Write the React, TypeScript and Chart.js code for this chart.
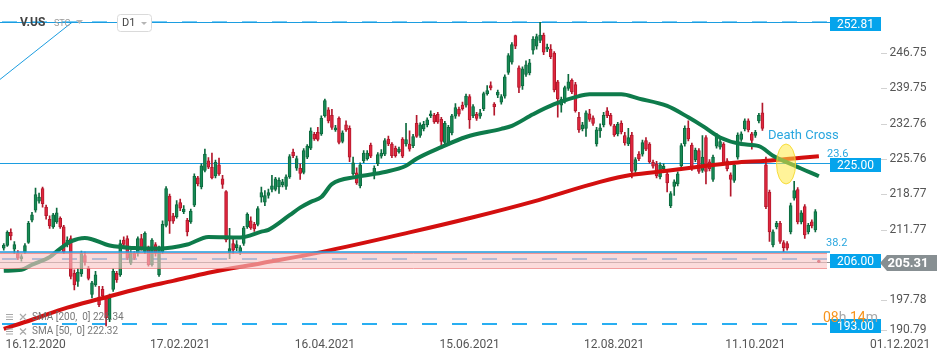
import React, { useEffect, useRef } from 'react';
import { Chart, registerables } from 'chart.js';

Chart.register(...registerables);
Chart.defaults.font.family = 'Roboto';

// ---------- candle data (daily, V.US) ----------
const opens: number[] = [
  208.1, 208.6, 211.2, 207.9, 207.1, 206.0, 207.3, 209.2, 213.6, 215.6,
  217.4, 219.9, 216.2, 213.8, 212.3, 213.3, 214.0, 212.3, 208.9, 210.0,
  203.1, 201.5, 203.0, 206.6, 204.1, 198.9, 200.8, 198.4, 199.9, 198.2,
  194.0, 199.9, 203.1, 202.8, 209.7, 210.0, 205.1, 207.1, 207.1, 210.0,
  207.4, 208.1, 204.8, 208.8, 202.8, 207.4, 212.6, 218.4, 214.5, 214.3,
  217.1, 215.3, 213.6, 213.3, 216.6, 222.0, 220.2, 223.5, 225.4, 224.1,
  222.4, 224.6, 221.8, 219.3, 207.2, 209.0, 208.2, 207.4, 209.0, 212.3,
  213.5, 212.8, 212.8, 218.2, 217.2, 218.5, 219.7, 219.7, 220.2, 220.6,
  220.3, 222.2, 227.1, 223.9, 223.9, 223.1, 226.1, 227.9, 230.6, 231.0,
  230.7, 234.3, 235.5, 234.4, 231.5, 233.8, 229.2, 232.5, 231.8, 222.8,
  223.0, 220.4, 225.4, 225.8, 228.5, 222.8, 224.8, 226.3, 226.7, 229.7,
  228.7, 227.9, 227.2, 229.7, 228.7, 228.7, 228.4, 232.8, 230.4, 231.7,
  232.5, 234.3, 234.4, 234.6, 233.6, 229.0, 228.9, 230.9, 234.2, 235.6,
  236.4, 236.4, 238.1, 234.3, 234.6, 234.2, 235.7, 238.7, 240.3, 236.6,
  238.4, 237.0, 238.2, 242.9, 244.9, 250.2, 243.8, 240.2, 242.5, 242.8,
  247.3, 248.1, 249.2, 250.3, 247.5, 247.5, 246.7, 241.0, 236.4, 237.2,
  239.7, 241.3, 240.5, 234.0, 231.7, 231.8, 234.7, 233.9, 228.7, 231.3,
  232.5, 235.3, 234.4, 232.3, 230.7, 232.8, 230.4, 228.7, 230.5, 223.5,
  226.7, 226.7, 229.4, 228.7, 225.1, 224.8, 222.2, 223.8, 222.8, 216.5,
  220.3, 220.8, 224.4, 228.7, 231.8, 228.5, 225.6, 227.4, 223.5, 230.0,
  225.2, 221.7, 228.3, 228.1, 228.7, 225.4, 222.6, 221.5, 226.1, 229.6,
  231.7, 233.3, 230.7, 230.4, 233.3, 234.9, 224.6, 219.2, 208.7, 212.3,
  213.0, 209.2, 209.0, 211.3, 218.0, 219.7, 213.3, 216.3, 211.3, 213.3,
  211.7, 205.6,
];
const highs: number[] = [
  209.0, 211.5, 211.9, 209.4, 207.6, 206.8, 209.0, 213.4, 215.2, 220.0,
  219.0, 220.2, 216.6, 214.5, 215.0, 216.0, 214.3, 212.6, 210.3, 210.5,
  203.8, 204.0, 207.5, 207.3, 204.5, 201.5, 203.5, 200.5, 200.5, 198.5,
  199.0, 204.0, 203.5, 209.7, 210.3, 210.5, 207.6, 207.4, 210.3, 210.8,
  211.3, 208.5, 210.0, 209.2, 208.5, 213.5, 220.3, 218.8, 215.0, 217.5,
  217.8, 216.5, 214.0, 215.8, 222.8, 222.3, 224.8, 227.7, 226.0, 226.9,
  225.5, 225.9, 222.5, 219.5, 212.0, 210.0, 209.6, 208.6, 212.4, 215.1,
  214.3, 213.2, 216.3, 220.2, 219.5, 219.8, 222.5, 222.1, 222.0, 221.7,
  222.6, 226.6, 227.7, 226.3, 224.8, 227.8, 228.6, 231.9, 231.0, 232.0,
  234.3, 237.6, 235.9, 235.6, 232.4, 234.1, 231.3, 233.3, 232.3, 226.1,
  224.0, 225.0, 227.4, 227.4, 228.9, 224.4, 227.0, 227.6, 229.8, 230.3,
  229.0, 228.3, 228.1, 230.0, 232.8, 231.3, 230.6, 234.4, 232.9, 233.2,
  233.9, 235.3, 234.8, 235.0, 234.0, 233.2, 232.4, 234.6, 236.7, 236.0,
  237.0, 238.6, 238.5, 236.5, 235.0, 235.6, 239.0, 240.3, 241.0, 236.9,
  239.4, 238.5, 242.4, 246.6, 248.8, 250.3, 244.2, 244.0, 245.2, 245.5,
  250.0, 250.5, 252.8, 250.7, 248.5, 248.4, 247.0, 241.3, 238.0, 240.2,
  242.5, 241.6, 240.9, 235.0, 233.0, 235.3, 235.6, 234.3, 232.0, 232.7,
  235.0, 235.9, 234.8, 232.6, 233.0, 233.3, 231.0, 231.8, 231.0, 226.0,
  227.2, 229.5, 230.0, 229.0, 225.5, 225.3, 225.0, 224.8, 223.2, 219.3,
  221.6, 223.2, 228.8, 232.3, 233.3, 228.9, 227.9, 227.8, 230.4, 230.4,
  225.6, 226.5, 230.8, 229.7, 229.0, 225.8, 223.0, 225.0, 230.9, 231.1,
  233.7, 233.7, 231.0, 231.4, 234.8, 236.8, 226.1, 219.6, 211.7, 213.4,
  213.4, 209.6, 209.4, 217.0, 221.3, 220.1, 215.5, 216.7, 213.0, 213.7,
  215.7, 205.7,
];
const lows: number[] = [
  207.7, 208.4, 209.7, 207.0, 205.8, 205.5, 207.0, 209.0, 213.3, 215.2,
  217.0, 216.2, 213.8, 212.0, 212.0, 213.0, 212.0, 207.0, 208.3, 202.0,
  199.8, 200.5, 202.5, 204.7, 201.8, 198.2, 200.5, 196.5, 198.0, 192.7,
  193.5, 199.5, 201.3, 202.5, 208.5, 205.8, 204.8, 205.8, 206.5, 207.7,
  207.0, 204.5, 204.5, 206.5, 202.5, 207.0, 212.3, 211.0, 213.0, 214.0,
  215.5, 214.9, 210.5, 213.0, 216.3, 220.4, 219.8, 223.2, 223.8, 221.8,
  222.0, 222.5, 219.9, 209.3, 206.0, 207.0, 207.6, 206.8, 208.6, 212.0,
  211.8, 211.4, 212.5, 217.2, 216.5, 218.0, 219.2, 219.4, 218.9, 220.2,
  219.7, 221.9, 226.0, 223.5, 221.7, 222.8, 225.8, 227.6, 229.4, 229.3,
  230.4, 234.0, 232.9, 231.6, 231.2, 228.7, 228.9, 231.2, 225.2, 222.5,
  220.7, 220.0, 225.0, 225.5, 226.0, 221.8, 224.4, 225.9, 226.4, 228.4,
  226.0, 226.1, 226.9, 226.0, 228.3, 227.3, 228.0, 230.0, 230.0, 231.3,
  232.1, 233.9, 232.8, 232.8, 228.4, 228.6, 228.5, 230.5, 233.8, 234.2,
  235.4, 236.0, 231.8, 233.9, 233.4, 233.8, 235.3, 238.4, 239.4, 234.4,
  237.9, 236.6, 237.8, 242.5, 244.5, 247.6, 238.9, 239.5, 242.1, 242.4,
  246.5, 247.5, 248.8, 246.4, 247.0, 245.6, 239.0, 234.0, 235.0, 236.8,
  239.3, 238.7, 235.0, 231.0, 231.3, 230.2, 233.2, 232.4, 228.3, 230.0,
  232.1, 233.9, 232.3, 230.2, 230.3, 230.7, 228.5, 228.4, 222.0, 223.1,
  225.4, 226.3, 227.4, 224.9, 223.9, 222.0, 221.8, 223.4, 219.2, 216.1,
  218.5, 220.4, 224.0, 228.3, 229.3, 223.5, 225.2, 222.9, 223.1, 220.8,
  223.4, 221.3, 227.9, 227.7, 224.6, 223.4, 218.4, 221.1, 225.7, 229.2,
  231.3, 231.1, 227.7, 230.0, 232.9, 231.4, 215.9, 209.4, 208.3, 211.9,
  209.0, 207.4, 207.7, 210.9, 217.6, 212.9, 212.9, 210.0, 210.9, 212.1,
  211.3, 205.2,
];
const closes: number[] = [
  208.7, 211.2, 210.5, 208.8, 206.1, 206.4, 208.6, 213.0, 214.7, 218.7,
  218.2, 216.9, 214.5, 212.5, 214.7, 215.1, 212.3, 207.4, 209.7, 202.5,
  200.8, 203.3, 207.1, 205.3, 202.1, 201.2, 202.8, 196.9, 198.6, 194.3,
  198.2, 203.5, 201.8, 209.0, 208.8, 206.1, 207.1, 206.1, 210.0, 208.1,
  211.0, 204.8, 209.7, 207.1, 208.1, 212.8, 219.9, 213.4, 213.4, 216.7,
  216.0, 215.8, 211.3, 215.4, 222.3, 220.8, 224.4, 226.7, 224.1, 222.0,
  225.1, 222.8, 220.7, 209.7, 208.0, 207.7, 208.8, 208.2, 212.1, 214.8,
  212.1, 211.9, 215.9, 219.1, 218.5, 219.1, 220.4, 221.8, 221.5, 221.2,
  222.2, 226.2, 226.4, 225.8, 222.9, 227.4, 228.3, 231.3, 229.7, 229.6,
  233.8, 237.3, 233.3, 232.0, 231.9, 229.0, 230.9, 231.5, 226.1, 225.0,
  221.0, 224.6, 226.9, 226.9, 226.3, 223.9, 226.6, 226.9, 229.4, 228.7,
  226.4, 226.4, 227.7, 226.3, 229.6, 227.7, 230.2, 230.2, 232.5, 232.6,
  233.5, 234.7, 233.1, 233.1, 229.2, 232.8, 232.0, 234.3, 235.9, 234.6,
  235.7, 238.2, 233.5, 236.1, 233.8, 234.9, 238.7, 239.3, 239.8, 236.1,
  239.0, 238.1, 242.0, 246.2, 248.4, 248.1, 239.9, 243.6, 244.4, 244.8,
  249.5, 250.0, 250.3, 246.9, 247.9, 246.0, 239.4, 237.7, 237.6, 239.9,
  241.0, 239.0, 235.3, 231.5, 232.5, 234.9, 233.6, 232.8, 231.5, 231.9,
  234.4, 234.3, 232.6, 230.5, 232.6, 231.1, 228.9, 230.0, 223.3, 225.6,
  225.8, 229.0, 227.7, 225.2, 224.3, 222.4, 224.6, 224.3, 221.0, 218.9,
  221.2, 222.8, 228.4, 231.8, 229.7, 223.9, 227.5, 223.3, 226.1, 223.3,
  223.8, 226.1, 230.4, 229.2, 225.0, 223.8, 221.7, 224.6, 230.5, 230.7,
  233.3, 231.5, 229.4, 231.0, 234.4, 231.8, 216.3, 211.3, 211.3, 213.0,
  209.4, 208.2, 208.1, 216.5, 219.5, 213.3, 215.1, 210.7, 212.6, 212.5,
  215.3, 205.31,
];

// ---------- moving averages (read at these candle indices) ----------
const sma200Index: number[] = [0, 8, 18, 27, 39, 48, 58, 73, 90, 115, 133, 150, 169, 178, 188, 197, 207, 216, 226, 231];
const sma200Values: number[] = [192.1, 193.9, 196.3, 198.0, 200.2, 201.6, 203.2, 205.1, 207.3, 211.2, 214.2, 217.3, 221.2, 222.6, 223.4, 224.2, 225.0, 225.4, 226.0, 226.3];
const sma50Index: number[] = [0, 5, 8, 13, 16, 19, 23, 30, 37, 44, 52, 58, 67, 73, 75, 81, 84, 87, 90, 93, 100, 108, 114, 117, 124, 131, 141, 144, 150, 156, 163, 166, 175, 180, 188, 194, 198, 203, 209, 214, 218, 224, 231];
const sma50Values: number[] = [203.6, 203.8, 204.8, 206.3, 208.0, 209.4, 210.1, 208.6, 208.1, 208.0, 208.8, 210.3, 210.2, 211.35, 211.7, 214.6, 216.1, 217.25, 218.2, 220.75, 222.2, 223.15, 224.4, 225.8, 228.1, 230.1, 231.7, 232.3, 234.6, 236.6, 238.2, 238.55, 238.55, 237.7, 236.25, 234.0, 232.3, 230.0, 228.7, 228.3, 226.4, 224.45, 222.32];

// ---------- axes ----------
const SLOT_COUNT = 262;
const Y_MIN = 190.76;
const Y_MAX = 257.23;
const xTickIndex: number[] = [9, 50, 91, 132, 173, 213, 254];
const xTickLabels: string[] = ['16.12.2020', '17.02.2021', '16.04.2021', '15.06.2021', '12.08.2021', '11.10.2021', '01.12.2021'];
const yTickValues: number[] = [190.79, 197.78, 211.77, 218.77, 225.76, 232.76, 239.75, 246.75];
const yTickLabels: string[] = ['190.79', '197.78', '211.77', '218.77', '225.76', '232.76', '239.75', '246.75'];

// ---------- levels / annotations ----------
const LEVEL_HIGH = 252.81;
const LEVEL_225 = 225.0;
const LEVEL_206 = 206.0;
const LEVEL_193 = 193.0;
const LAST_PRICE = 205.31;
const FIB_382 = 207.4;
const ZONE_TOP = 207.35;
const ZONE_BOTTOM = 204.1;
const FIB_LINE_START = { index: -1.07, value: 241.5 };
const FIB_LINE_END = { index: 19.35, value: 252.81 };
const CROSS_INDEX = 221.7;
const CROSS_VALUE = 224.75;
const SMA200_LAST = 226.34;
const SMA50_LAST = 222.32;

const LINE_END_X = 830;
const BLUE = '#05a4ec';

const UP_FILL = '#178a55';
const UP_EDGE = '#0c6a3e';
const DOWN_FILL = '#e0273e';
const DOWN_EDGE = '#b3182c';

function sparse(idx: number[], vals: number[]): (number | null)[] {
  const out: (number | null)[] = new Array(SLOT_COUNT).fill(null);
  idx.forEach((k, j) => { out[k] = vals[j]; });
  return out;
}

const overlayPlugin = {
  id: 'overlay',
  beforeDatasetsDraw(chart: any) {
    const { ctx, scales } = chart;
    const x = scales.x, y = scales.y;
    ctx.save();
    const hline = (v: number, color: string, width: number, dash: number[]) => {
      const py = Math.round(y.getPixelForValue(v)) + (width % 2 ? 0.5 : 0);
      ctx.beginPath();
      ctx.setLineDash(dash);
      ctx.lineDashOffset = -2;
      ctx.strokeStyle = color;
      ctx.lineWidth = width;
      ctx.moveTo(0, py);
      ctx.lineTo(LINE_END_X, py);
      ctx.stroke();
    };
    hline(LEVEL_HIGH, 'rgba(95,195,245,0.85)', 2, [15, 15]);
    hline(LEVEL_HIGH, '#1c9de0', 1, []);
    hline(LEVEL_225, '#1c9de0', 1, []);
    hline(LEVEL_206, 'rgba(60,160,230,0.9)', 2, [15, 15]);
    hline(LAST_PRICE, '#909090', 1, []);
    hline(LEVEL_193, 'rgba(30,170,240,0.95)', 2, [15, 15]);
    ctx.setLineDash([]);
    ctx.beginPath();
    ctx.strokeStyle = '#1c9de0';
    ctx.lineWidth = 1;
    ctx.moveTo(x.getPixelForValue(FIB_LINE_START.index), y.getPixelForValue(FIB_LINE_START.value));
    ctx.lineTo(x.getPixelForValue(FIB_LINE_END.index), y.getPixelForValue(FIB_LINE_END.value));
    ctx.stroke();
    ctx.restore();
  },
  afterDatasetsDraw(chart: any) {
    const { ctx, scales } = chart;
    const x = scales.x, y = scales.y;
    ctx.save();
    const zt = y.getPixelForValue(ZONE_TOP);
    const zb = y.getPixelForValue(ZONE_BOTTOM);
    ctx.fillStyle = 'rgba(248,197,197,0.62)';
    ctx.fillRect(0, zt, 827, zb - zt);
    ctx.strokeStyle = 'rgba(236,120,120,0.7)';
    ctx.lineWidth = 1;
    ctx.beginPath();
    ctx.moveTo(0, Math.round(zt) + 1.5); ctx.lineTo(827, Math.round(zt) + 1.5);
    ctx.moveTo(0, Math.round(zb) + 0.5); ctx.lineTo(827, Math.round(zb) + 0.5);
    ctx.stroke();
    const f = Math.round(y.getPixelForValue(FIB_382));
    ctx.strokeStyle = '#1c9de0';
    ctx.lineWidth = 1.5;
    ctx.beginPath();
    ctx.moveTo(0, f); ctx.lineTo(LINE_END_X, f);
    ctx.stroke();
    const cx = x.getPixelForValue(CROSS_INDEX);
    const cy = y.getPixelForValue(CROSS_VALUE);
    ctx.beginPath();
    ctx.ellipse(cx, cy, 9.5, 20, 0, 0, Math.PI * 2);
    ctx.fillStyle = 'rgba(255,234,70,0.55)';
    ctx.fill();
    ctx.strokeStyle = 'rgba(245,215,40,0.85)';
    ctx.lineWidth = 1;
    ctx.stroke();
    ctx.fillStyle = '#2aa7df';
    ctx.font = '13px Roboto';
    ctx.textBaseline = 'middle';
    ctx.textAlign = 'left';
    ctx.fillText('Death Cross', cx - 18, cy - 28.5);
    ctx.font = '11px Roboto';
    ctx.fillText('23.6', 827, y.getPixelForValue(LEVEL_225) - 8.5);
    ctx.fillText('38.2', 826, y.getPixelForValue(FIB_382) - 8);
    ctx.restore();
  },
  afterDraw(chart: any) {
    const { ctx, scales } = chart;
    const y = scales.y;
    ctx.save();
    ctx.strokeStyle = '#d2d2d2';
    ctx.lineWidth = 1;
    y.ticks.forEach((t: any) => {
      const py = Math.round(y.getPixelForValue(t.value)) + 0.5;
      ctx.beginPath(); ctx.moveTo(881, py); ctx.lineTo(887, py); ctx.stroke();
    });
    ctx.textBaseline = 'middle';
    const box = (v: number) => {
      const py = Math.round(y.getPixelForValue(v)) + 2;
      ctx.fillStyle = BLUE;
      ctx.fillRect(830, py - 7, 51, 14);
      ctx.fillStyle = '#ffffff';
      ctx.font = '12px Roboto';
      ctx.textAlign = 'center';
      ctx.fillText(v.toFixed(2), 855.5, py + 0.5);
    };
    box(LEVEL_HIGH);
    box(LEVEL_225);
    box(LEVEL_206);
    box(LEVEL_193);
    const lp = Math.round(y.getPixelForValue(LAST_PRICE)) + 1;
    ctx.fillStyle = '#878f92';
    ctx.beginPath();
    ctx.moveTo(880, lp);
    ctx.lineTo(887, lp - 8);
    ctx.lineTo(937, lp - 8);
    ctx.lineTo(937, lp + 8);
    ctx.lineTo(887, lp + 8);
    ctx.closePath();
    ctx.fill();
    ctx.fillStyle = '#ffffff';
    ctx.font = 'bold 13px Roboto';
    ctx.textAlign = 'center';
    ctx.fillText(LAST_PRICE.toFixed(2), 908, lp + 0.5);
    ctx.textAlign = 'left';
    ctx.font = '14px Roboto';
    let tx = 823;
    const parts: [string, string][] = [['08', '#f7941d'], ['h ', '#a8a8a8'], ['14', '#f7941d'], ['m', '#a8a8a8']];
    parts.forEach(([s, c]) => { ctx.fillStyle = c; ctx.fillText(s, tx, 318.5); tx += ctx.measureText(s).width; });
    ctx.font = 'bold 12px Roboto';
    ctx.fillStyle = '#444';
    ctx.fillText('V.US', 20, 23);
    ctx.font = '9px Roboto';
    ctx.fillStyle = '#9a9a9a';
    ctx.fillText('STC', 54, 24);
    ctx.fillStyle = '#b5b5b5';
    ctx.beginPath(); ctx.moveTo(76, 20); ctx.lineTo(83, 20); ctx.lineTo(79.5, 24); ctx.closePath(); ctx.fill();
    ctx.fillStyle = '#ffffff';
    ctx.strokeStyle = '#dadada';
    ctx.beginPath();
    (ctx as any).roundRect(117.5, 14.5, 34, 17, 3);
    ctx.fill(); ctx.stroke();
    ctx.font = '11px Roboto';
    ctx.fillStyle = '#444';
    ctx.fillText('D1', 122, 23.5);
    ctx.fillStyle = '#b5b5b5';
    ctx.beginPath(); ctx.moveTo(141, 22); ctx.lineTo(147, 22); ctx.lineTo(144, 25); ctx.closePath(); ctx.fill();
    const legendRow = (cyy: number, text: string) => {
      ctx.strokeStyle = '#a9a9a9';
      ctx.lineWidth = 1.2;
      ctx.beginPath();
      for (let k = -1; k <= 1; k++) { ctx.moveTo(6, cyy + k * 2.5); ctx.lineTo(13, cyy + k * 2.5); }
      ctx.moveTo(20, cyy - 3); ctx.lineTo(26, cyy + 3);
      ctx.moveTo(26, cyy - 3); ctx.lineTo(20, cyy + 3);
      ctx.stroke();
      ctx.font = '10px Roboto';
      ctx.fillStyle = 'rgba(105,105,105,0.9)';
      ctx.fillText(text, 32, cyy);
    };
    legendRow(317, `SMA [200,  0] ${SMA200_LAST.toFixed(2)}`);
    legendRow(331.5, `SMA [50,  0] ${SMA50_LAST.toFixed(2)}`);
    ctx.restore();
  },
};

export default function App() {
  const ref = useRef<HTMLCanvasElement>(null);
  useEffect(() => {
    document.body.style.margin = '0';
    const canvas = ref.current;
    if (!canvas) return;
    const labels = Array.from({ length: SLOT_COUNT }, (_, i) => String(i));
    const up = opens.map((o, i) => closes[i] >= o);
    const tickMap = new Map<number, string>();
    xTickIndex.forEach((k, j) => tickMap.set(k, xTickLabels[j]));

    const chart = new Chart(canvas, {
      type: 'bar',
      data: {
        labels,
        datasets: [
          {
            type: 'line',
            label: 'SMA50',
            data: sparse(sma50Index, sma50Values),
            borderColor: '#0e7b4b',
            borderWidth: 4,
            pointRadius: 0,
            spanGaps: true,
            cubicInterpolationMode: 'monotone',
            order: 0,
          } as any,
          {
            type: 'line',
            label: 'SMA200',
            data: sparse(sma200Index, sma200Values),
            borderColor: '#d30f0f',
            borderWidth: 4,
            pointRadius: 0,
            spanGaps: true,
            cubicInterpolationMode: 'monotone',
            order: 1,
          } as any,
          {
            label: 'body',
            data: opens.map((o, i) => [o, closes[i]]),
            backgroundColor: up.map((u) => (u ? UP_FILL : DOWN_FILL)),
            borderColor: up.map((u) => (u ? UP_EDGE : DOWN_EDGE)),
            borderWidth: 1,
            borderSkipped: false,
            barThickness: 3,
            minBarLength: 1,
            grouped: false,
            order: 2,
          } as any,
          {
            label: 'wick',
            data: lows.map((l, i) => [l, highs[i]]),
            backgroundColor: up.map((u) => (u ? UP_EDGE : DOWN_EDGE)),
            borderWidth: 0,
            barThickness: 1,
            grouped: false,
            order: 3,
          } as any,
        ],
      },
      options: {
        responsive: false,
        devicePixelRatio: 1,
        animation: false,
        events: [],
        layout: { padding: { left: 2, right: 0, top: 0, bottom: 10 } },
        plugins: { legend: { display: false }, tooltip: { enabled: false } },
        scales: {
          x: {
            type: 'category',
            offset: true,
            grid: { display: false, drawTicks: false },
            border: { display: false },
            afterBuildTicks: (s: any) => { s.ticks = xTickIndex.map((k) => ({ value: k })); },
            ticks: {
              autoSkip: false,
              maxRotation: 0,
              padding: 2,
              color: '#555555',
              font: { family: 'Roboto', size: 12 },
              callback: (v: any) => tickMap.get(Number(v)) ?? '',
            },
          },
          y: {
            type: 'linear',
            position: 'right',
            min: Y_MIN,
            max: Y_MAX,
            grid: { display: false, drawTicks: false },
            border: { display: false },
            afterBuildTicks: (s: any) => { s.ticks = yTickValues.map((v) => ({ value: Math.max(v, Y_MIN + 1.2) })); },
            afterFit: (s: any) => { s.width = 23.5; s.paddingTop = 0; s.paddingBottom = 0; },
            ticks: {
              autoSkip: false,
              mirror: true,
              padding: 0,
              crossAlign: 'near',
              color: '#555555',
              font: { family: 'Roboto', size: 12 },
              callback: (_v: any, idx: number) => yTickLabels[idx],
            },
          },
        },
      } as any,
      plugins: [overlayPlugin],
    });
    return () => chart.destroy();
  }, []);
  return (
    <div style={{ width: 950, height: 364 }}>
      <canvas ref={ref} width={950} height={364} style={{ display: 'block' }} />
    </div>
  );
}
